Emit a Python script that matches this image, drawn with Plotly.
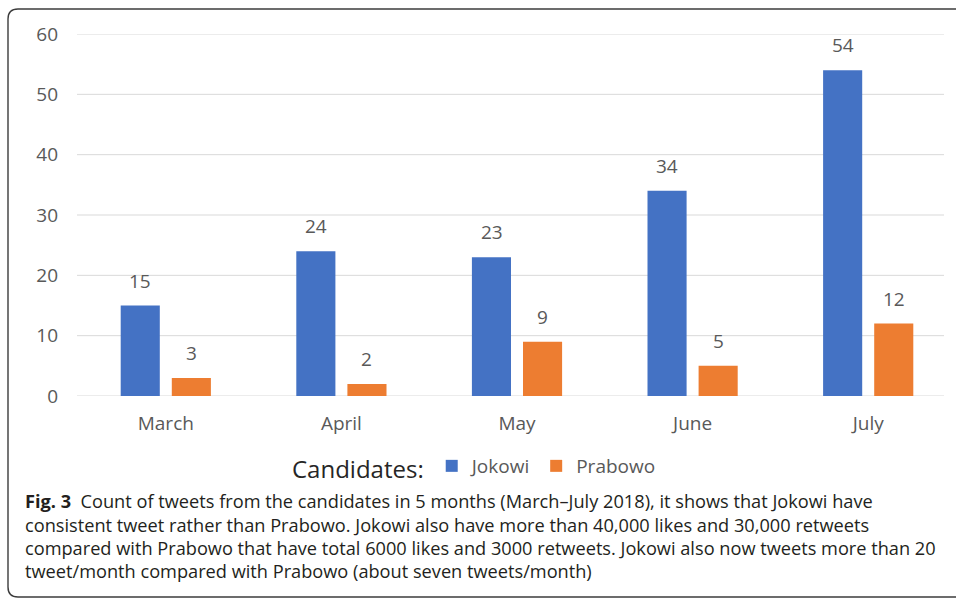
import plotly.graph_objects as go

months = ["March", "April", "May", "June", "July"]
jokowi = [15, 24, 23, 34, 54]
prabowo = [3, 2, 9, 5, 12]
y_ticks = [0, 10, 20, 30, 40, 50, 60]
caption_lines = [
    "<b>Fig. 3</b>  Count of tweets from the candidates in 5 months (March–July 2018), it shows that Jokowi have",
    "consistent tweet rather than Prabowo. Jokowi also have more than 40,000 likes and 30,000 retweets",
    "compared with Prabowo that have total 6000 likes and 3000 retweets. Jokowi also now tweets more than 20",
    "tweet/month compared with Prabowo (about seven tweets/month)",
]

W, H = 956, 601
L, R, T, B = 78, 0, 34, 205
PW, PH = W - L - R, H - T - B


def px2x(px):
    return (px - L) / PW


def px2y(py):
    return (H - B - py) / PH


BLUE = "#4472C4"
ORANGE = "#ED7D31"
GREY = "#595959"
FONT = "Open Sans"
CAP_SIZE = 18.2

fig = go.Figure()
fig.add_trace(go.Bar(x=months, y=jokowi, name="Jokowi", marker=dict(color=BLUE, line=dict(width=0))))
fig.add_trace(go.Bar(x=months, y=prabowo, name="Prabowo", marker=dict(color=ORANGE, line=dict(width=0))))

shapes = []
for t in y_ticks:
    shapes.append(dict(type="line", xref="paper", yref="y", x0=px2x(77), x1=px2x(944), y0=t, y1=t,
                       line=dict(color="#d9d9d9", width=1), layer="below"))

# rounded frame
r = 10
x0, y0, x1, y1 = 8, 9, 975, 597
path = (f"M {px2x(x0 + r)} {px2y(y0)} L {px2x(x1)} {px2y(y0)} L {px2x(x1)} {px2y(y1)} "
        f"L {px2x(x0 + r)} {px2y(y1)} Q {px2x(x0)} {px2y(y1)} {px2x(x0)} {px2y(y1 - r)} "
        f"L {px2x(x0)} {px2y(y0 + r)} Q {px2x(x0)} {px2y(y0)} {px2x(x0 + r)} {px2y(y0)} Z")
shapes.append(dict(type="path", xref="paper", yref="paper", path=path,
                   line=dict(color="#3c3c3c", width=1.4)))

annotations = []
for vals, shift in ((jokowi, -25.5), (prabowo, 25.5)):
    for m, v in zip(months, vals):
        annotations.append(dict(x=m, y=v, xref="x", yref="y", text=str(v), showarrow=False,
                                xshift=shift, yshift=10, yanchor="bottom",
                                font=dict(family=FONT, size=19, color=GREY)))

baselines = [507, 531, 554, 577]
for line, bl in zip(caption_lines, baselines):
    annotations.append(dict(x=px2x(23), y=px2y(bl - 0.32 * CAP_SIZE), xref="paper", yref="paper", text=line,
                            showarrow=False, xanchor="left", yanchor="middle",
                            font=dict(family=FONT, size=CAP_SIZE, color="#231f20")))

fig.update_layout(
    width=W, height=H,
    margin=dict(l=L, r=R, t=T, b=B, pad=0),
    paper_bgcolor="white", plot_bgcolor="white",
    barmode="group", bargap=0.418, bargroupgap=0.235,
    font=dict(family=FONT, size=19, color=GREY),
    showlegend=True,
    legend=dict(orientation="h", x=px2x(290), y=px2y(468), xanchor="left", yanchor="middle",
                title=dict(text="Candidates:", side="left", font=dict(family=FONT, size=24, color="#262626")),
                font=dict(family=FONT, size=19, color=GREY), bgcolor="rgba(0,0,0,0)",
                itemclick=False),
    shapes=shapes,
    annotations=annotations,
)
fig.update_xaxes(range=[-0.5, 4.5], showgrid=False, showline=False, zeroline=False, ticks="",
                 ticklabelstandoff=14, tickfont=dict(family=FONT, size=19, color=GREY))
fig.update_yaxes(range=[0, 60], tickvals=y_ticks, showgrid=False, zeroline=False, showline=False,
                 ticks="", ticklabelstandoff=19, tickfont=dict(family=FONT, size=19, color=GREY))

fig.write_html("out.html")
